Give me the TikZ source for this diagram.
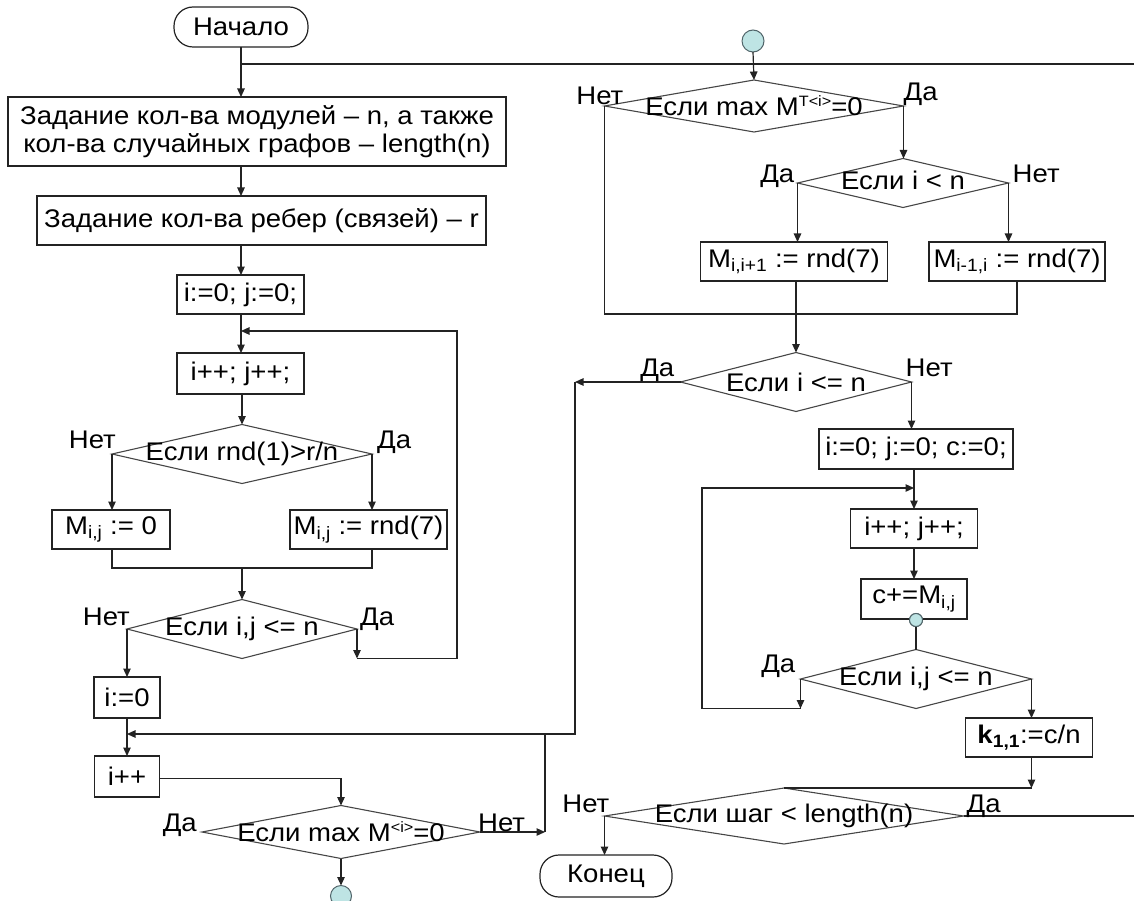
\documentclass[tikz,border=0pt]{standalone}
\usepackage{fontspec}
\setmainfont{Liberation Sans}[FakeStretch=1.08]
\usetikzlibrary{arrows.meta,shapes.geometric}
\definecolor{lineC}{RGB}{35,35,35}
\definecolor{diaC}{RGB}{70,70,70}
\definecolor{connF}{RGB}{190,228,228}
\definecolor{connD}{RGB}{80,100,105}
\newcommand{\supsm}[1]{\raisebox{9pt}{\fontsize{15}{15}\selectfont #1}}
\begin{document}
\begin{tikzpicture}[x=1pt,y=-1pt,
  font=\fontsize{25.5}{27.5}\selectfont,
  box/.style={draw=lineC, line width=1.2pt, rectangle, inner sep=0pt, outer sep=0pt, align=center},
  term/.style={box, rounded corners=19pt},
  dia/.style={draw=diaC, line width=1.1pt, diamond, inner sep=0pt, outer sep=0pt},
  dtext/.style={inner sep=0pt},
  lab/.style={inner sep=0pt},
  conn/.style={circle, draw=connD, fill=connF, line width=1pt, inner sep=0pt, outer sep=0pt},
  arr/.style={-{Triangle[width=7.5pt,length=8.5pt]}},
  line/.style={draw=lineC, line width=1.2pt}]
\useasboundingbox (0,0) rectangle (1134,901);

% ---------- left column ----------
\node[term, minimum width=134pt, minimum height=40pt] (start) at (241,27) {Начало};
\node[box, minimum width=498pt, minimum height=69pt] (b1) at (257,131.5) {Задание кол-ва модулей – n, а также\\кол-ва случайных графов – length(n)};
\node[box, minimum width=449pt, minimum height=49pt] (b2) at (261.5,220.5) {Задание кол-ва ребер (связей) – r};
\node[box, minimum width=127pt, minimum height=39pt] (b3) at (240.5,294.5) {i:=0; j:=0;};
\node[box, minimum width=127pt, minimum height=41pt] (b4) at (240.5,373.5) {i++; j++;};
\node[dia, minimum width=260pt, minimum height=59pt] (d1) at (242,454) {};
\node[dtext] (t1) at (d1) {Если rnd(1)>r/n};
\node[box, minimum width=118pt, minimum height=39pt] (b5) at (111,529.5) {M\textsubscript{i,j} := 0};
\node[box, minimum width=157pt, minimum height=39pt] (b6) at (368.5,529.5) {M\textsubscript{i,j} := rnd(7)};
\node[dia, minimum width=230pt, minimum height=59pt] (d2) at (242,629) {};
\node[dtext] (t2) at (d2) {Если i,j <= n};
\node[box, minimum width=66pt, minimum height=41pt] (b7) at (127,697.5) {i:=0};
\node[box, minimum width=65pt, minimum height=41pt] (b8) at (127,776.5) {i++};
\node[dia, minimum width=278pt, minimum height=53pt] (dD) at (341,832) {};
\node[dtext] (tD) at (dD) {Если max M\supsm{<i>}=0};
\node[conn, minimum size=21pt] (cB) at (341,896) {};

% ---------- right column ----------
\node[conn, minimum size=22pt] (cT) at (753,41) {};
\node[dia, minimum width=299pt, minimum height=52pt] (dA) at (754,106) {};
\node[dtext] (tA) at (dA) {Если max M\supsm{T<i>}=0};
\node[dia, minimum width=211pt, minimum height=49pt] (dB) at (903,183) {};
\node[dtext] (tB) at ([yshift=3pt]dB) {Если i < n};
\node[box, minimum width=187pt, minimum height=39pt] (b9) at (794,261.5) {M\textsubscript{i,i+1} := rnd(7)};
\node[box, minimum width=176pt, minimum height=39pt] (b10) at (1017,261.5) {M\textsubscript{i-1,i} := rnd(7)};
\node[dia, minimum width=231pt, minimum height=59pt] (dC) at (796,382) {};
\node[dtext] (tC) at (dC) {Если i <= n};
\node[box, minimum width=194pt, minimum height=40pt] (b11) at (916,449) {i:=0; j:=0; c:=0;};
\node[box, minimum width=127pt, minimum height=39pt] (b12) at (914,528.5) {i++; j++;};
\node[box, minimum width=106pt, minimum height=40pt] (b13) at (914,599) {c+=M\textsubscript{i,j}};
\node[conn, minimum size=13pt] (cS) at (916,620) {};
\node[dia, minimum width=231pt, minimum height=59pt] (dE) at (916,679) {};
\node[dtext] (tE) at (dE) {Если i,j <= n};
\node[box, minimum width=127pt, minimum height=39pt] (b14) at (1029,737.5) {\textbf{k\textsubscript{1,1}}:=c/n};
\node[dia, minimum width=359pt, minimum height=56pt] (dF) at (784,816) {};
\node[dtext] (tF) at (dF) {Если шаг < length(n)};
\node[term, minimum width=132pt, minimum height=42pt] (end) at (606,876) {Конец};

% ---------- helper coordinates ----------
\coordinate (yTop) at (1134,64);
\coordinate (yL1) at (457,331);
\coordinate (yM1) at (0,568);
\coordinate (yJ) at (0,734);
\coordinate (cC) at (575,382);
\coordinate (cD) at (545,832);
\coordinate (yR) at (0,314);
\coordinate (yLoop) at (702,488);
\coordinate (cF) at (dE.east |- dF.north);

% ---------- left connectors ----------
\draw[line,arr] (start.south) -- (start.south |- b1.north);
\draw[line] (start.south |- yTop) -- (yTop);
\draw[line,arr] (b1.south -| start) -- (b2.north -| start);
\draw[line,arr] (b2.south -| start) -- (b3.north -| start);
\draw[line,arr] (b3.south -| start) -- (b4.north -| start);
\draw[line,arr] (b4.south -| d1) -- (d1.north);
\draw[line,arr] (d1.west) -- (d1.west |- b5.north);
\draw[line,arr] (d1.east) -- (d1.east |- b6.north);
\draw[line] (b5.south -| d1.west) -- (d1.west |- yM1) -- (d1.east |- yM1) -- (b6.south -| d1.east);
\draw[line,arr] (d1 |- yM1) -- (d2.north);
\draw[line,arr] (d2.east) -- (d2.east |- d2.south);
\draw[line,arr] (d2.east |- d2.south) -- (yL1 |- d2.south) -- (yL1) -- (yL1 -| start);
\draw[line,arr] (d2.west) -- (d2.west |- b7.north);
\draw[line,arr] (b7.south) -- (b8.north);
\draw[line,arr] ([yshift=-2pt]b8.east) -- ([yshift=-2pt]b8.east -| dD) -- (dD.north);
\draw[line,arr] (dD.south) -- (cB.north);
\draw[line,arr] (dD.east) -- (cD);
\draw[line] (cD) -- (cD |- yJ);
\draw[line,arr] (dC.west) -- (cC);
\draw[line,arr] (cC) -- (cC |- yJ) -- (b7.south |- yJ);

% ---------- right connectors ----------
\draw[line,arr] (cT.south) -- (dA.north);
\draw[line,arr] (dA.east) -- (dA.east |- dB.north);
\draw[line,arr] (dB.west) -- (dB.west |- b9.north);
\draw[line,arr] (dB.east) -- (dB.east |- b10.north);
\draw[line] (dA.west) -- (dA.west |- yR) -- (b10.south |- yR) -- (b10.south);
\draw[line,arr] (b9.south -| dC) -- (dC.north);
\draw[line,arr] (dC.east) -- (dC.east |- b11.north);
\draw[line,arr] (b11.south -| b12) -- (b12.north);
\draw[line,arr] (b12.south) -- (b13.north);
\draw[line,arr] (dE.west) -- (dE.west |- dE.south);
\draw[line,arr] (dE.west |- dE.south) -- (yLoop |- dE.south) -- (yLoop) -- (yLoop -| b12);
\draw[line] (cS.south) -- (dE.north);
\node[conn, minimum size=13pt] at (cS) {};
\draw[line,arr] (dE.east) -- (dE.east |- b14.north);
\draw[line,arr] (b14.south -| dE.east) -- (cF);
\draw[line] (cF) -- (dF.north);
\draw[line] (dF.east) -- (dF.east -| yTop);
\draw[line,arr] (dF.west) -- (dF.west |- end.north);

% ---------- labels ----------
\node[lab, anchor=base east] (l1n) at ([shift={(4,-6)}]d1.west) {Нет};
\node[lab, anchor=base west] (l1d) at ([shift={(5,-6)}]d1.east) {Да};
\node[lab, anchor=base east] (l2n) at ([shift={(3,-4)}]d2.west) {Нет};
\node[lab, anchor=base west] (l2d) at ([shift={(3,-4)}]d2.east) {Да};
\node[lab, anchor=base east] (lDd) at ([shift={(-5,-1)}]dD.west) {Да};
\node[lab, anchor=base west] (lDn) at ([shift={(-2,-1)}]dD.east) {Нет};
\node[lab, anchor=base east] (lAn) at ([shift={(19,-1)}]dA.west) {Нет};
\node[lab, anchor=base west] (lAd) at ([shift={(0,-5)}]dA.east) {Да};
\node[lab, anchor=base east] (lBd) at ([shift={(-3,0)}]dB.west) {Да};
\node[lab, anchor=base west] (lBn) at ([shift={(4,0)}]dB.east) {Нет};
\node[lab, anchor=base east] (lCd) at ([shift={(-6,-6)}]dC.west) {Да};
\node[lab, anchor=base west] (lCn) at ([shift={(-6,-6)}]dC.east) {Нет};
\node[lab, anchor=base east] (lEd) at ([shift={(-5,-7)}]dE.west) {Да};
\node[lab, anchor=base east] (lFn) at ([shift={(5,-4)}]dF.west) {Нет};
\node[lab, anchor=base west] (lFd) at ([shift={(3,-4)}]dF.east) {Да};
\end{tikzpicture}
\end{document}
